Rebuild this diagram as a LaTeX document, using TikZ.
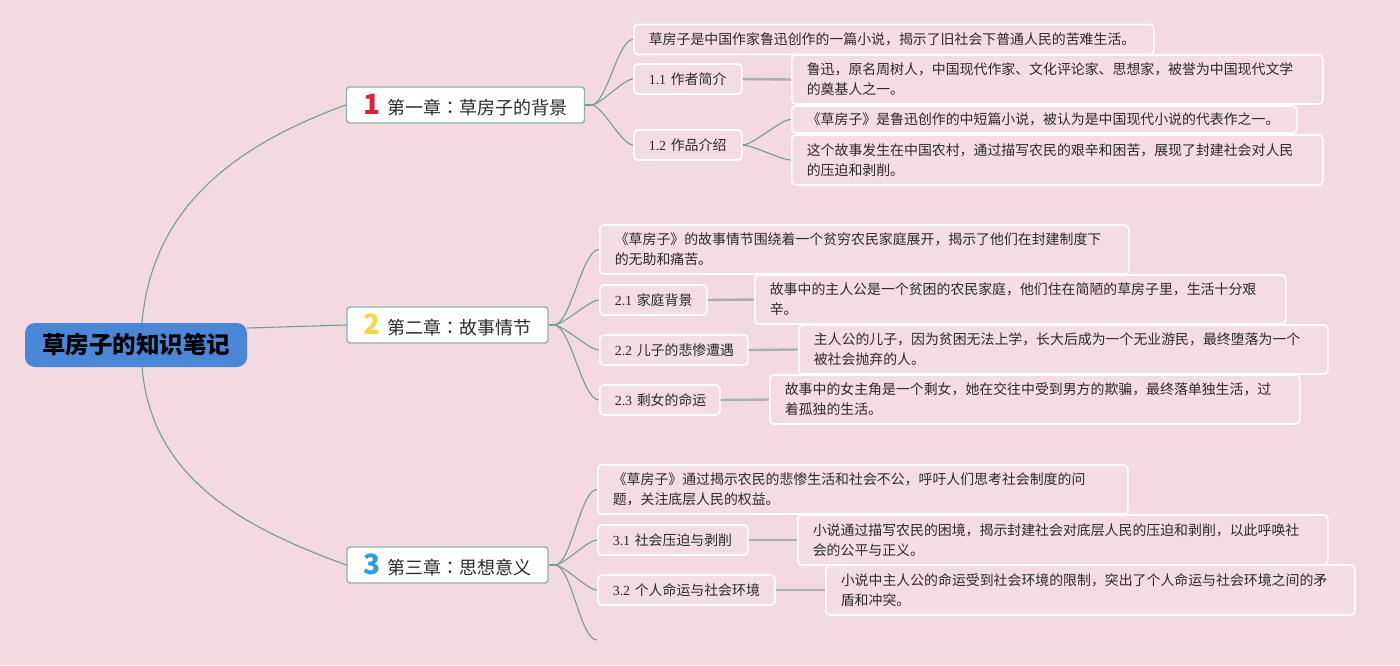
\documentclass[tikz,border=0pt]{standalone}
\usepackage{fontspec}
\setmainfont{Noto Sans CJK SC}
\newfontfamily\dgf{Liberation Serif}
\newfontfamily\tcf{Noto Sans CJK TC}
\newcommand\nm[1]{{\dgf #1}}
\newcommand\cln{{\tcf ：}}
\definecolor{bgc}{HTML}{F2DAE0}
\definecolor{leaff}{HTML}{F3DCE2}
\definecolor{linec}{HTML}{74A090}
\definecolor{chb}{HTML}{8DB3A4}
\definecolor{grayl}{HTML}{A9B1AD}
\definecolor{rootc}{HTML}{4A87D7}
\definecolor{txt}{HTML}{2B2B2B}
\definecolor{n1}{HTML}{D6243A}
\definecolor{n2}{HTML}{F5D84A}
\definecolor{n3}{HTML}{2C9BDA}
\newcommand\chnum[2]{{\fontsize{28}{28}\selectfont\bfseries\color{#1}#2}\hspace{7pt}}
\begin{document}
\begin{tikzpicture}[x=1pt,y=-1pt,
  leaf/.style={draw=white, line width=1.6pt, fill=leaff, rounded corners=4pt, anchor=west,
    inner xsep=15pt, inner ysep=0pt, align=left, text=txt, font=\fontsize{13.9}{20}\selectfont},
  chap/.style={draw=chb, line width=1.4pt, fill=white, rounded corners=3pt, minimum height=36pt,
    inner sep=0pt, text=txt, font=\fontsize{18}{20}\selectfont},
  rootbox/.style={fill=rootc, rounded corners=10pt, minimum width=222pt, minimum height=44pt,
    inner sep=0pt, text=black, font=\fontsize{23.5}{24}\selectfont\bfseries},
  conn/.style={draw=linec, line width=1.1pt},
  link/.style={draw=grayl, line width=2.4pt},
  br/.style={out=0, in=180, looseness=0.5}]
\fill[bgc] (0,0) rectangle (1400,665);
\useasboundingbox (0,0) rectangle (1400,665);

% root and chapters
\node[rootbox] (root) at (136,345) {草房子的知识笔记};
\node[chap, minimum width=238pt] (ch1) at (465.5,105) {\chnum{n1}{1}第一章\cln 草房子的背景};
\node[chap, minimum width=201pt] (ch2) at (447.5,325) {\chnum{n2}{2}第二章\cln 故事情节};
\node[chap, minimum width=201pt] (ch3) at (447.5,565) {\chnum{n3}{3}第三章\cln 思想意义};

% chapter 1
\node[leaf, text width=490pt, minimum height=30pt] (s1) at (633,39.5) {草房子是中国作家鲁迅创作的一篇小说，揭示了旧社会下普通人民的苦难生活。};
\node[leaf, text width=78pt, minimum height=30pt] (l11) at (633,79) {\nm{1.1}~作者简介};
\node[leaf, text width=501pt, minimum height=49pt] (d11) at (791,79.5) {鲁迅，原名周树人，中国现代作家、文化评论家、思想家，被誉为中国现代文学\\的奠基人之一。};
\node[leaf, text width=78pt, minimum height=30pt] (l12) at (633,145) {\nm{1.2}~作品介绍};
\node[leaf, text width=475pt, minimum height=27pt] (d12a) at (791,119.5) {《草房子》是鲁迅创作的中短篇小说，被认为是中国现代小说的代表作之一。};
\node[leaf, text width=501pt, minimum height=50pt] (d12b) at (791,160) {这个故事发生在中国农村，通过描写农民的艰辛和困苦，展现了封建社会对人民\\的压迫和剥削。};

% chapter 2
\node[leaf, text width=499pt, minimum height=49pt] (s2) at (599,249.5) {《草房子》的故事情节围绕着一个贫穷农民家庭展开，揭示了他们在封建制度下\\的无助和痛苦。};
\node[leaf, text width=77pt, minimum height=30pt] (l21) at (599,300) {\nm{2.1}~家庭背景};
\node[leaf, text width=501pt, minimum height=49pt] (d21) at (754,299.5) {故事中的主人公是一个贫困的农民家庭，他们住在简陋的草房子里，生活十分艰\\辛。};
\node[leaf, text width=118pt, minimum height=30pt] (l22) at (599,350) {\nm{2.2}~儿子的悲惨遭遇};
\node[leaf, text width=499pt, minimum height=49pt] (d22) at (798,349.5) {主人公的儿子，因为贫困无法上学，长大后成为一个无业游民，最终堕落为一个\\被社会抛弃的人。};
\node[leaf, text width=90pt, minimum height=30pt] (l23) at (599,400) {\nm{2.3}~剩女的命运};
\node[leaf, text width=500pt, minimum height=49pt] (d23) at (769,399.5) {故事中的女主角是一个剩女，她在交往中受到男方的欺骗，最终落单独生活，过\\着孤独的生活。};

% chapter 3
\node[leaf, text width=500pt, minimum height=49pt] (s3) at (597,489.5) {《草房子》通过揭示农民的悲惨生活和社会不公，呼吁人们思考社会制度的问\\题，关注底层人民的权益。};
\node[leaf, text width=120pt, minimum height=30pt] (l31) at (597,540) {\nm{3.1}~社会压迫与剥削};
\node[leaf, text width=500pt, minimum height=50pt] (d31) at (797,540) {小说通过描写农民的困境，揭示封建社会对底层人民的压迫和剥削，以此呼唤社\\会的公平与正义。};
\node[leaf, text width=147pt, minimum height=30pt] (l32) at (597,590) {\nm{3.2}~个人命运与社会环境};
\node[leaf, text width=499pt, minimum height=50pt] (d32) at (825,590) {小说中主人公的命运受到社会环境的限制，突出了个人命运与社会环境之间的矛\\盾和冲突。};
\coordinate (e3) at (597,640);

% anchors
\coordinate (a1) at ([xshift=6pt]ch1.east);
\coordinate (a2) at ([xshift=5pt]ch2.east);
\coordinate (a3) at ([xshift=6pt]ch3.east);

% root connectors
\draw[conn] ([xshift=6pt]root.north) to[out=85, in=200] (ch1.west);
\draw[conn] ([yshift=17pt]root.east) -- (ch2.west);
\draw[conn] ([xshift=6pt]root.south) to[out=-85, in=160] (ch3.west);

% chapter 1 connectors
\draw[conn] (ch1.east) -- (a1);
\draw[conn] (a1) to[br] (s1.west);
\draw[conn] (a1) to[br] (l11.west);
\draw[conn] (a1) to[br] (l12.west);
\draw[link] (l11.east) -- (d11.west);
\draw[conn] (l12.east) to[br] (d12a.west);
\draw[conn] (l12.east) to[br] (d12b.west);

% chapter 2 connectors
\draw[conn] (ch2.east) -- (a2);
\draw[conn] (a2) to[br] (s2.west);
\draw[conn] (a2) to[br] (l21.west);
\draw[conn] (a2) to[br] (l22.west);
\draw[conn] (a2) to[br] (l23.west);
\draw[link] (l21.east) -- (d21.west);
\draw[link] (l22.east) -- (d22.west);
\draw[link] (l23.east) -- (d23.west);

% chapter 3 connectors
\draw[conn] (ch3.east) -- (a3);
\draw[conn] (a3) to[br] (s3.west);
\draw[conn] (a3) to[br] (l31.west);
\draw[conn] (a3) to[br] (l32.west);
\draw[conn] (a3) to[br] (e3);
\draw[link] (l31.east) -- (d31.west);
\draw[link] (l32.east) -- (d32.west);
\end{tikzpicture}
\end{document}
